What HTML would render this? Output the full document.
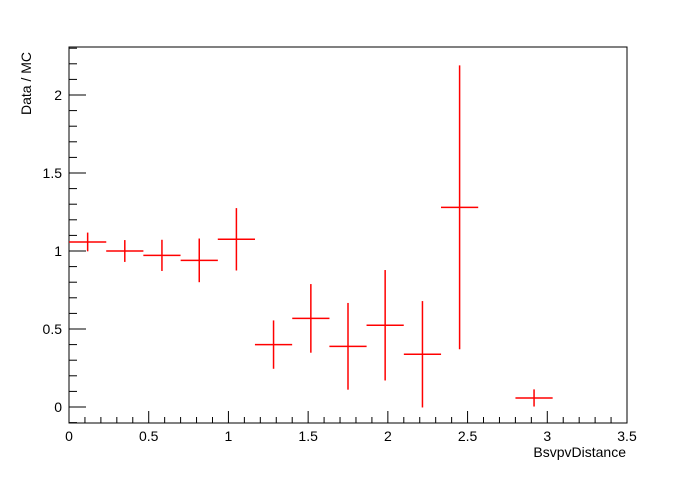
<!DOCTYPE html>
<html><head><meta charset="utf-8"><style>
body{margin:0;background:#fff}
svg text{font-family:"Liberation Sans",Arial,sans-serif;font-size:14px;fill:#000}
</style></head><body>
<svg id="c" width="696" height="472">
<rect x="0" y="0" width="696" height="472" fill="#fff"/>
<rect x="69" y="47" width="558" height="376" fill="none" stroke="#000" stroke-width="1"/>
<g id="axes"></g><g id="marks"></g>
<text x="626" y="457" text-anchor="end">BsvpvDistance</text>
<text transform="translate(31,115) rotate(-90)" text-anchor="start">Data / MC</text>
</svg>
<script>
const binCenters=[0.117,0.35,0.583,0.817,1.05,1.283,1.517,1.75,1.983,2.217,2.45,2.917];
const values=[1.058,1.0,0.972,0.94,1.075,0.40,0.568,0.389,0.524,0.338,1.28,0.058];
const errors=[0.06,0.07,0.1,0.14,0.2,0.155,0.22,0.278,0.354,0.341,0.91,0.055];
const binHalfWidth=0.1167;
const xTicks=[0,0.5,1,1.5,2,2.5,3,3.5];
const xTickLabels=["0","0.5","1","1.5","2","2.5","3","3.5"];
const yTicks=[0,0.5,1,1.5,2];
const yTickLabels=["0","0.5","1","1.5","2"];
const NS="http://www.w3.org/2000/svg";
const X=v=>69+v*(558/3.5);
const Y=v=>407-v*156;
const axes=document.getElementById('axes'),marks=document.getElementById('marks');
function ln(p,x1,y1,x2,y2,c,n,w){const l=document.createElementNS(NS,'line');
l.setAttribute('x1',x1);l.setAttribute('y1',y1);l.setAttribute('x2',x2);l.setAttribute('y2',y2);
l.setAttribute('stroke',c);l.setAttribute('stroke-width',w||1);


p.appendChild(l);return l;}
function tx(s,x,y,a,n){const t=document.createElementNS(NS,'text');t.textContent=s;
t.setAttribute('x',x);t.setAttribute('y',y);t.setAttribute('text-anchor',a);


axes.appendChild(t);}
for(let i=0;i<=35;i++){const v=i/10,maj=i%5===0;ln(axes,X(v),423,X(v),423-(maj?12:6),'#000','x-tick');}
xTicks.forEach((v,i)=>tx(xTickLabels[i],X(v),441,'middle','x-tick-label'));
for(let i=-1;i<=23;i++){const v=i/10,maj=i%5===0;ln(axes,69,Y(v),69+(maj?17:8),Y(v),'#000','y-tick');}
yTicks.forEach((v,i)=>tx(yTickLabels[i],62,Y(v)+5,'end','y-tick-label'));
binCenters.forEach((c,i)=>{
ln(marks,X(c-binHalfWidth),Y(values[i]),X(c+binHalfWidth),Y(values[i]),'#f00','point-xerr',1.5);
ln(marks,X(c),Y(values[i]+errors[i]),X(c),Y(Math.max(values[i]-errors[i],-0.1)),'#f00','point-yerr',1.5);
});
</script>
</body></html>
